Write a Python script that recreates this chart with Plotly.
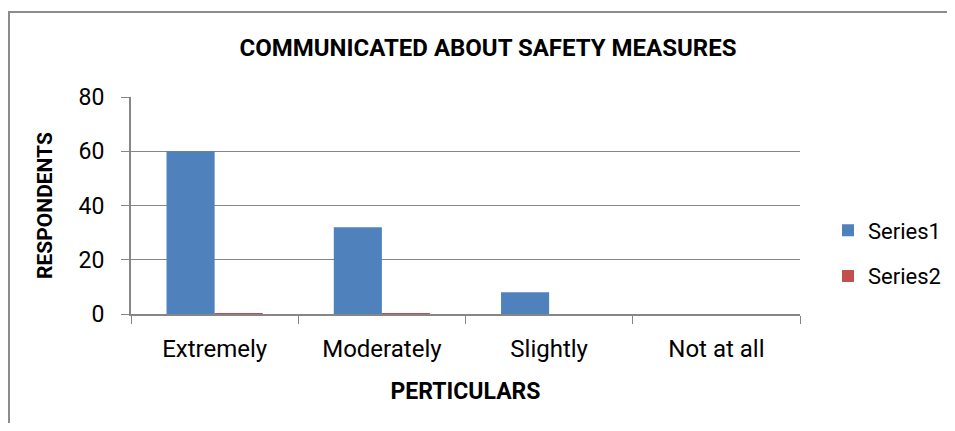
import plotly.graph_objects as go

categories = ["Extremely", "Moderately", "Slightly", "Not at all"]
series1 = [60, 32, 8, 0]
series2 = [0.3, 0.3, 0, 0]
y_ticks = [0, 20, 40, 60, 80]

FONT = "Roboto, Arial, sans-serif"

fig = go.Figure()
fig.add_trace(go.Bar(x=categories, y=series1, name="Series1",
                     marker=dict(color="#4F81BD", line=dict(width=0)),
                     legendgroup="a"))
fig.add_trace(go.Bar(x=categories, y=series2, name="Series2",
                     marker=dict(color="#C0504D", line=dict(width=0)),
                     legendgroup="b"))

# page body has an 8px margin, so figure coords = screen coords - 8
W, H = 947, 415
L, R, T, B = 123, 792, 89, 306

def px(x):
    return (x - L) / (R - L)

def py(y):
    return (B - y) / (B - T)

border_path = "M {x0},{y0} L {x0},{y1} L {x2},{y1}".format(
    x0=px(1), y0=py(470), y1=py(4), x2=px(1000))

fig.update_layout(
    width=W, height=H,
    margin=dict(l=L, r=W - R, t=T, b=H - B, autoexpand=False),
    paper_bgcolor="white", plot_bgcolor="white",
    barmode="group", bargap=0.425, bargroupgap=0,
    font=dict(family=FONT, size=23, color="#000000"),
    title=dict(text="<b>COMMUNICATED ABOUT SAFETY MEASURES</b>",
               x=480 / W, xanchor="center", y=1 - 40 / H, yanchor="middle",
               font=dict(family=FONT, size=24, color="#000000")),
    xaxis=dict(
        tickson="boundaries", ticks="outside", ticklen=8, tickcolor="#868686",
        showline=True, linecolor="#868686", linewidth=2,
        showgrid=False, ticklabelstandoff=12, automargin=False,
        title=dict(text="<b>PERTICULARS</b>", standoff=21,
                   font=dict(family=FONT, size=23)),
        tickfont=dict(family=FONT, size=24),
    ),
    yaxis=dict(
        range=[0, 80], tickvals=y_ticks, ticks="outside", ticklen=8,
        tickcolor="#868686", showline=True, linecolor="#868686", linewidth=2,
        showgrid=True, gridcolor="#868686", gridwidth=1, zeroline=False,
        ticklabelstandoff=12, automargin=False,
        title=dict(text="<b>RESPONDENTS</b>", standoff=20,
                   font=dict(family=FONT, size=21)),
        tickfont=dict(family=FONT, size=23),
    ),
    legend=dict(x=px(820), y=py(245.5), xanchor="left", yanchor="middle",
                tracegroupgap=14, font=dict(family=FONT, size=22),
                itemwidth=30),
    showlegend=True,
    shapes=[dict(type="path", xref="paper", yref="paper", path=border_path,
                 line=dict(color="#8c8c8c", width=2), layer="below")],
)

fig.write_html("out.html")
